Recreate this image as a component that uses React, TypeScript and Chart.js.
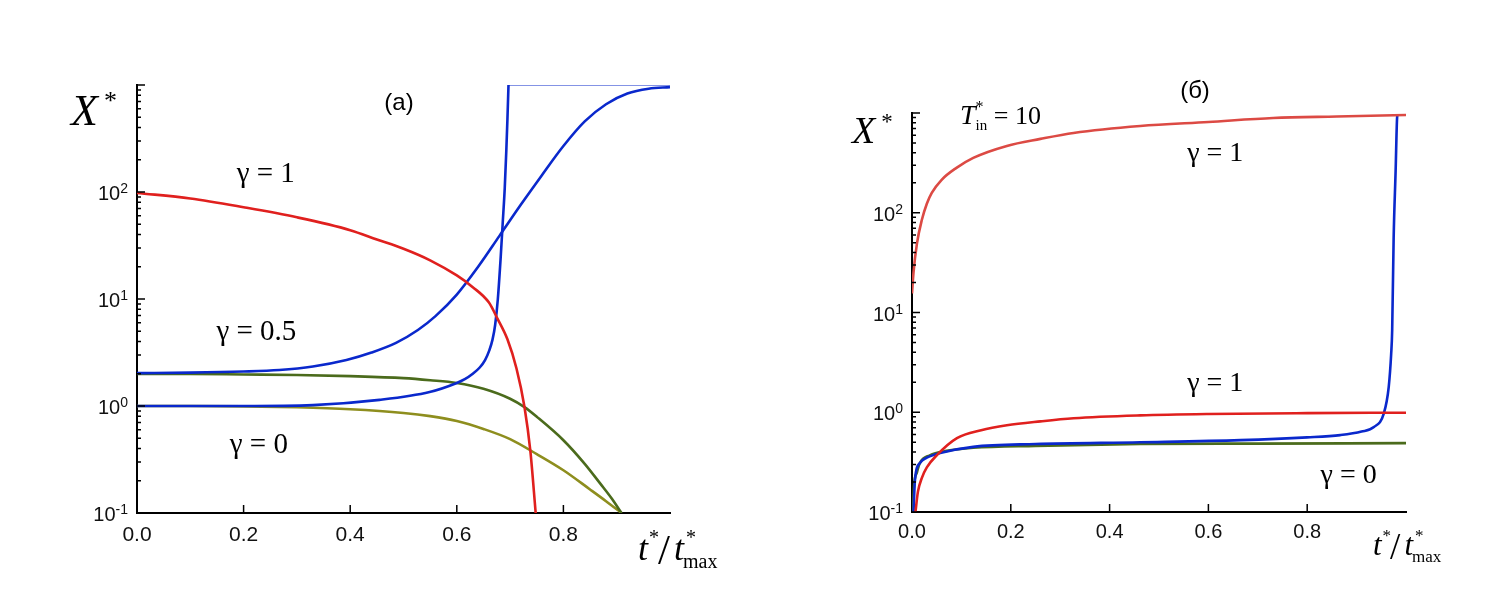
import React, { useEffect, useRef } from "react";
import { Chart, registerables } from "chart.js";

Chart.register(...registerables);

const SERIF = "'Liberation Serif', 'Times New Roman', serif";
const SANS = "'Liberation Sans', Arial, sans-serif";

// panel (а): t*/t*max against X*
const redA_t = [0, 0.1, 0.2, 0.3, 0.4, 0.45, 0.5, 0.55, 0.6, 0.63, 0.66, 0.676, 0.695, 0.712, 0.727, 0.738, 0.748];
const redA_x = [98, 87, 72, 58, 44, 36, 29.5, 23, 16.6, 12.9, 9.3, 6.6, 4.2, 2.24, 0.98, 0.38, 0.1];

const blueA1_t = [0, 0.1, 0.2, 0.267, 0.33, 0.393, 0.44, 0.486, 0.527, 0.56, 0.6, 0.64, 0.68, 0.72, 0.76, 0.8, 0.84, 0.88, 0.92, 0.96, 1.0];
const blueA1_x = [2.03, 2.05, 2.1, 2.17, 2.34, 2.69, 3.16, 3.89, 5.13, 6.92, 11, 20, 38.9, 75.9, 144.5, 269, 457, 661, 832, 923, 955];

const blueA2_t = [0, 0.2, 0.33, 0.455, 0.549, 0.6, 0.615, 0.63, 0.643, 0.653, 0.661, 0.667, 0.672, 0.677, 0.682, 0.686, 0.69, 0.693, 0.695, 0.697];
const blueA2_x = [1.0, 1.0, 1.02, 1.14, 1.35, 1.64, 1.78, 2.0, 2.29, 2.69, 3.31, 4.17, 5.75, 10, 23, 50, 110, 250, 480, 1000];
const blueA2cap_t = [0.697, 1.0];
const blueA2cap_x = [1000, 1000];

const greenA_t = [0, 0.1, 0.2, 0.3, 0.4, 0.5, 0.55, 0.6, 0.65, 0.7, 0.727, 0.75, 0.8, 0.84, 0.87, 0.89, 0.909];
const greenA_x = [1.99, 1.99, 1.97, 1.95, 1.9, 1.82, 1.74, 1.64, 1.45, 1.17, 0.977, 0.794, 0.479, 0.288, 0.186, 0.138, 0.1];

const oliveA_t = [0, 0.1, 0.2, 0.3, 0.4, 0.5, 0.55, 0.6, 0.65, 0.7, 0.75, 0.8, 0.85, 0.88, 0.909];
const oliveA_x = [1.0, 1.0, 0.993, 0.973, 0.933, 0.861, 0.804, 0.724, 0.61, 0.49, 0.355, 0.251, 0.166, 0.129, 0.1];

// panel (б), T*in = 10
const redTopB_t = [0, 0.003, 0.01, 0.02, 0.03, 0.04, 0.06, 0.09, 0.124, 0.192, 0.26, 0.327, 0.462, 0.6, 0.731, 0.86, 1.0];
const redTopB_x = [15.5, 25, 49, 85, 123, 158, 214, 282, 355, 468, 550, 631, 741, 813, 891, 923, 955];

const redLowB_t = [0.007, 0.012, 0.02, 0.03, 0.05, 0.091, 0.14, 0.192, 0.26, 0.327, 0.462, 0.6, 0.8, 1.0];
const redLowB_x = [0.1, 0.16, 0.22, 0.28, 0.37, 0.55, 0.66, 0.74, 0.81, 0.87, 0.93, 0.96, 0.98, 0.99];

const blueB_t = [0.003, 0.006, 0.016, 0.03, 0.057, 0.124, 0.25, 0.462, 0.665, 0.8, 0.867, 0.91, 0.935, 0.955, 0.965, 0.97, 0.972, 0.975, 0.979, 0.982, 0.983];
const blueB_x = [0.1, 0.21, 0.31, 0.35, 0.39, 0.45, 0.48, 0.5, 0.525, 0.56, 0.59, 0.64, 0.71, 0.97, 1.79, 3.86, 6.6, 56, 263, 898, 955];
const blueBcap_t = [0.983, 1.0];
const blueBcap_x = [955, 955];

const greenB_t = [0.002, 0.004, 0.01, 0.016, 0.036, 0.07, 0.124, 0.25, 0.462, 0.7, 1.0];
const greenB_x = [0.1, 0.18, 0.25, 0.31, 0.37, 0.41, 0.44, 0.46, 0.48, 0.485, 0.49];

// axes
const xTicks = [0, 0.2, 0.4, 0.6, 0.8];
const yDecades = [0.1, 1, 10, 100];
const yExps = ["-1", "0", "1", "2"];

const RED = "#e0201e";
const RED_LIGHT = "#dc4a44";
const BLUE = "#0a28cc";
const GREEN = "#4b6b1c";
const OLIVE = "#8e8e1e";

type Part = { s: string; font: string; dy?: number; dx?: number; keep?: boolean };
type Note = { parts: Part[]; x: number; y: number; at: "data" | "tl" | "br"; center?: boolean };

const gamma = (s: string, size = 29): Part[] => [{ s, font: `${size}px ${SERIF}` }];

const tOverT = (big: number): Part[] => {
    const sm = Math.round(big * 0.55);
    return [
        { s: "t", font: `italic ${big}px ${SERIF}` },
        { s: "*", font: `${sm}px ${SERIF}`, dy: -big * 0.45, dx: 1 },
        { s: "/", font: `${Math.round(big * 1.2)}px ${SERIF}`, dy: 4, dx: -1 },
        { s: "t", font: `italic ${big}px ${SERIF}`, dx: 4 },
        { s: "*", font: `${sm}px ${SERIF}`, dy: -big * 0.45, dx: 2, keep: true },
        { s: "max", font: `${sm}px ${SERIF}`, dy: big * 0.22, dx: -1 },
    ];
};

const xStar = (big: number): Part[] => [
    { s: "X", font: `italic ${big}px ${SERIF}` },
    { s: "*", font: `${Math.round(big * 0.6)}px ${SERIF}`, dy: -big * 0.36, dx: 6 },
];

const notesA: Note[] = [
    { parts: xStar(44), x: -66, y: 40, at: "tl" },
    { parts: [{ s: "(а)", font: `24px ${SANS}` }], x: 262, y: 25, at: "tl", center: true },
    { parts: tOverT(36), x: -32, y: 47, at: "br" },
    { parts: gamma("γ = 1"), x: 0.187, y: 124, at: "data" },
    { parts: gamma("γ = 0.5"), x: 0.149, y: 4.14, at: "data" },
    { parts: gamma("γ = 0"), x: 0.174, y: 0.364, at: "data" },
];

const notesB: Note[] = [
    { parts: xStar(38), x: -60, y: 30, at: "tl" },
    {
        parts: [
            { s: "T", font: `italic 28px ${SERIF}` },
            { s: "*", font: `16px ${SERIF}`, dy: -12, keep: true },
            { s: "in", font: `15px ${SERIF}`, dy: 6 },
            { s: " = 10", font: `26px ${SERIF}` },
        ],
        x: 48,
        y: 11,
        at: "tl",
    },
    { parts: [{ s: "(б)", font: `24px ${SANS}` }], x: 283, y: -15, at: "tl", center: true },
    { parts: tOverT(31), x: -33, y: 43, at: "br" },
    { parts: gamma("γ = 1", 28), x: 0.557, y: 331, at: "data" },
    { parts: gamma("γ = 1", 28), x: 0.557, y: 1.62, at: "data" },
    { parts: gamma("γ = 0", 28), x: 0.827, y: 0.195, at: "data" },
];

function drawParts(ctx: CanvasRenderingContext2D, parts: Part[], x: number, y: number, center?: boolean) {
    let total = 0;
    for (const p of parts) {
        ctx.font = p.font;
        total += p.dx || 0;
        if (!p.keep) total += ctx.measureText(p.s).width;
    }
    let cx = center ? x - total / 2 : x;
    for (const p of parts) {
        ctx.font = p.font;
        cx += p.dx || 0;
        ctx.fillText(p.s, cx, y + (p.dy || 0));
        if (!p.keep) cx += ctx.measureText(p.s).width;
        else cx -= p.dx || 0;
    }
}

function decor(notes: Note[], labelSize: number) {
    return {
        id: "decor",
        afterDraw(chart: any) {
            const { ctx, chartArea: a } = chart;
            const xs = chart.scales.x;
            const ys = chart.scales.y;
            ctx.save();
            ctx.strokeStyle = "#000";
            ctx.lineWidth = 1.5;
            ctx.beginPath();
            for (let e = -1; e <= 2; e++) {
                for (let m = 1; m <= 10; m++) {
                    if (m === 10 && e < 2) continue;
                    const py = ys.getPixelForValue(m * Math.pow(10, e));
                    const len = m === 1 || m === 10 ? 8 : 4;
                    ctx.moveTo(a.left, py);
                    ctx.lineTo(a.left + len, py);
                }
            }
            for (const v of xTicks) {
                if (v === 0) continue;
                const px = xs.getPixelForValue(v);
                ctx.moveTo(px, a.bottom);
                ctx.lineTo(px, a.bottom - 8);
            }
            ctx.stroke();

            ctx.fillStyle = "#111";
            ctx.textAlign = "left";
            ctx.textBaseline = "alphabetic";
            yDecades.forEach((v, i) => {
                const py = ys.getPixelForValue(v);
                ctx.font = `${Math.round(labelSize * 0.68)}px ${SANS}`;
                const ew = ctx.measureText(yExps[i]).width;
                ctx.font = `${labelSize}px ${SANS}`;
                const bw = ctx.measureText("10").width;
                const right = a.left - 9;
                ctx.fillText("10", right - ew - bw, py + 8);
                ctx.font = `${Math.round(labelSize * 0.68)}px ${SANS}`;
                ctx.fillText(yExps[i], right - ew, py + 1);
            });

            ctx.fillStyle = "#000";
            for (const n of notes) {
                let x = 0;
                let y = 0;
                if (n.at === "data") {
                    x = xs.getPixelForValue(n.x);
                    y = ys.getPixelForValue(n.y);
                } else if (n.at === "tl") {
                    x = a.left + n.x;
                    y = a.top + n.y;
                } else {
                    x = a.right + n.x;
                    y = a.bottom + n.y;
                }
                drawParts(ctx, n.parts, x, y, n.center);
            }
            ctx.restore();
        },
    };
}

const pts = (t: number[], v: number[]) => t.map((x, i) => ({ x, y: v[i] }));

const line = (t: number[], v: number[], color: string, width = 2.6) => ({
    data: pts(t, v),
    borderColor: color,
    borderWidth: width,
    pointRadius: 0,
    fill: false,
    cubicInterpolationMode: "monotone" as const,
});

interface PanelProps {
    datasets: any[];
    notes: Note[];
    yWidth: number;
    xHeight: number;
    padTop: number;
    padRight: number;
    tickSize: number;
    tickPad: number;
    left: number;
}

function Panel({ datasets, notes, yWidth, xHeight, padTop, padRight, tickSize, tickPad, left }: PanelProps) {
    const canvasRef = useRef<HTMLCanvasElement | null>(null);

    useEffect(() => {
        if (!canvasRef.current) return;
        const chart = new Chart(canvasRef.current, {
            type: "line",
            data: { datasets },
            options: {
                responsive: false,
                animation: false,
                parsing: false,
                layout: { padding: { left: 0, right: padRight, top: padTop, bottom: 0 } },
                plugins: { legend: { display: false }, tooltip: { enabled: false } },
                scales: {
                    x: {
                        type: "linear",
                        min: 0,
                        max: 1,
                        afterFit: (s: any) => {
                            s.height = xHeight;
                        },
                        grid: { display: false, drawTicks: false },
                        border: { color: "#000", width: 2 },
                        ticks: {
                            stepSize: 0.2,
                            padding: tickPad,
                            color: "#111",
                            font: { family: SANS, size: tickSize },
                            callback: (v: any) => (Number(v) > 0.99 ? "" : Number(v).toFixed(1)),
                        },
                    },
                    y: {
                        type: "logarithmic",
                        min: 0.1,
                        max: 1000,
                        afterFit: (s: any) => {
                            s.width = yWidth;
                        },
                        grid: { display: false, drawTicks: false },
                        border: { color: "#000", width: 2 },
                        ticks: { display: false },
                    },
                },
            },
            plugins: [decor(notes, 20)],
        });
        return () => chart.destroy();
    }, []);

    return (
        <canvas
            ref={canvasRef}
            width={754}
            height={614}
            style={{ position: "absolute", left, top: 0, width: 754, height: 614 }}
        />
    );
}

export default function App() {
    const setsA = [
        line(redA_t, redA_x, RED),
        line(blueA1_t, blueA1_x, BLUE),
        line(blueA2_t, blueA2_x, BLUE),
        line(blueA2cap_t, blueA2cap_x, BLUE, 1.2),
        line(greenA_t, greenA_x, GREEN),
        line(oliveA_t, oliveA_x, OLIVE),
    ];
    const setsB = [
        line(redTopB_t, redTopB_x, RED_LIGHT),
        line(redLowB_t, redLowB_x, RED),
        line(blueB_t, blueB_x, BLUE),
        line(blueBcap_t, blueBcap_x, BLUE, 1.2),
        line(greenB_t, greenB_x, GREEN),
    ];
    return (
        <div style={{ position: "fixed", left: 0, top: 0, width: 1508, height: 614, background: "#fff" }}>
            <Panel datasets={setsA} notes={notesA} yWidth={137} xHeight={101} padTop={85} padRight={84} tickSize={21} tickPad={10} left={0} />
            <Panel datasets={setsB} notes={notesB} yWidth={158} xHeight={102} padTop={113} padRight={102} tickSize={20} tickPad={8} left={754} />
        </div>
    );
}
